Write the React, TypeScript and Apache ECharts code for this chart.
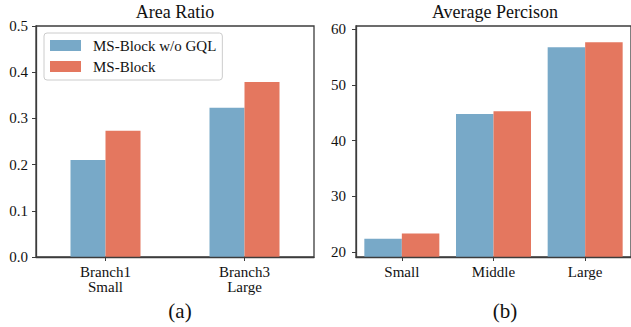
import React, { useEffect, useRef } from "react";
import * as echarts from "echarts";

const seriesNames = ["MS-Block w/o GQL", "MS-Block"];
const areaCategories = ["Branch1\nSmall", "Branch3\nLarge"];
const areaWithoutGQL = [0.21, 0.323];
const areaMSBlock = [0.273, 0.379];
const apCategories = ["Small", "Middle", "Large"];
const apWithoutGQL = [22.4, 44.8, 56.8];
const apMSBlock = [23.3, 45.3, 57.7];
const apTicks = [20, 30, 40, 50, 60];
const titles = ["Area Ratio", "Average Percison"];
const captions = ["(a)", "(b)"];

const FONT = "'Liberation Serif', 'Times New Roman', serif";
const BLUE = "#78a9c8";
const RED = "#e4775f";
const SPINE = "#3c3c3c";

export default function App() {
  const ref = useRef<HTMLDivElement>(null);
  useEffect(() => {
    if (!ref.current) return;
    const chart = echarts.init(ref.current, null, { renderer: "svg" });
    const axisLine = { show: true, lineStyle: { color: SPINE, width: 1.3 } };
    const axisTick = { show: true, length: 4, lineStyle: { color: SPINE, width: 1 } };
    const label = { color: "#111", fontFamily: FONT, fontSize: 15 };
    chart.setOption({
      animation: false,
      backgroundColor: "#fff",
      grid: [
        { left: 36, top: 26, width: 278, height: 231, show: true, borderColor: SPINE, borderWidth: 1.3, backgroundColor: "transparent" },
        { left: 356, top: 26, width: 277.5, height: 231, show: true, borderColor: SPINE, borderWidth: 1.3, backgroundColor: "transparent" },
      ],
      xAxis: [
        {
          type: "category", gridIndex: 0, data: areaCategories, z: 10,
          axisLine, axisTick: { ...axisTick, alignWithLabel: true },
          axisLabel: { ...label, margin: 7, lineHeight: 15 },
        },
        {
          type: "category", gridIndex: 1, data: apCategories, z: 10,
          axisLine, axisTick: { ...axisTick, alignWithLabel: true },
          axisLabel: { ...label, margin: 7, lineHeight: 15 },
        },
      ],
      yAxis: [
        {
          type: "value", gridIndex: 0, min: 0, max: 0.5, interval: 0.1, z: 10,
          axisLine, axisTick, splitLine: { show: false },
          axisLabel: { ...label, margin: 8, formatter: (v: number) => v.toFixed(1) },
        },
        {
          type: "value", gridIndex: 1, min: 19.1, max: 60.6, z: 10,
          axisLine, splitLine: { show: false },
          axisTick: { ...axisTick, customValues: apTicks },
          axisLabel: { ...label, margin: 10, customValues: apTicks },
        },
      ],
      legend: {
        orient: "vertical", left: 44, top: 33,
        data: seriesNames,
        itemWidth: 31, itemHeight: 11, itemGap: 6,
        padding: [5, 6, 6, 6],
        borderColor: "#cccccc", borderWidth: 1, borderRadius: 3,
        backgroundColor: "#fff",
        icon: "rect",
        textStyle: { color: "#111", fontFamily: FONT, fontSize: 15, padding: [0, 0, 0, 7] },
      },
      series: [
        { type: "bar", name: seriesNames[0], xAxisIndex: 0, yAxisIndex: 0, data: areaWithoutGQL, barWidth: 35, barGap: "0%", itemStyle: { color: BLUE } },
        { type: "bar", name: seriesNames[1], xAxisIndex: 0, yAxisIndex: 0, data: areaMSBlock, barWidth: 35, barGap: "0%", itemStyle: { color: RED } },
        { type: "bar", name: seriesNames[0], xAxisIndex: 1, yAxisIndex: 1, data: apWithoutGQL, barWidth: 37.5, barGap: "0%", itemStyle: { color: BLUE } },
        { type: "bar", name: seriesNames[1], xAxisIndex: 1, yAxisIndex: 1, data: apMSBlock, barWidth: 37.5, barGap: "0%", itemStyle: { color: RED } },
      ],
      graphic: [
        { type: "text", x: 175, y: 12, style: { text: titles[0], fill: "#111", fontFamily: FONT, fontSize: 18, textAlign: "center", textVerticalAlign: "middle" } },
        { type: "text", x: 495, y: 12, style: { text: titles[1], fill: "#111", fontFamily: FONT, fontSize: 18, textAlign: "center", textVerticalAlign: "middle" } },
        { type: "text", x: 180, y: 311, style: { text: captions[0], fill: "#111", fontFamily: FONT, fontSize: 21, textAlign: "center", textVerticalAlign: "middle" } },
        { type: "text", x: 505, y: 311, style: { text: captions[1], fill: "#111", fontFamily: FONT, fontSize: 21, textAlign: "center", textVerticalAlign: "middle" } },
      ],
    });
    return () => chart.dispose();
  }, []);
  return <div ref={ref} style={{ position: "fixed", left: 0, top: 0, width: 631, height: 327 }} />;
}
